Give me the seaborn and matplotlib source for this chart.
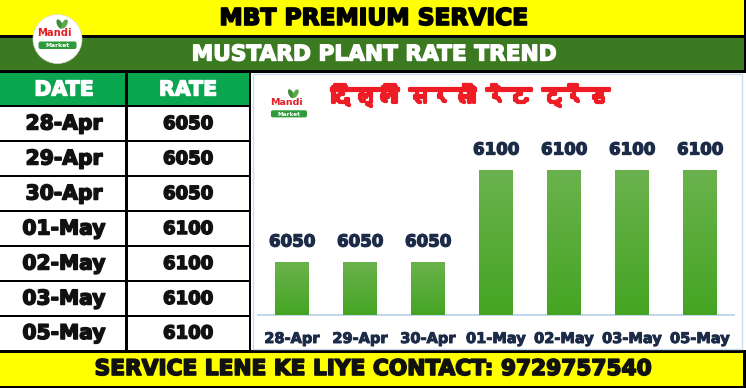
import matplotlib
matplotlib.use("Agg")
import matplotlib.pyplot as plt
import matplotlib.patheffects as pe
import seaborn as sns
import numpy as np
from matplotlib import font_manager
from matplotlib.ft2font import FT2Font
from matplotlib.patches import Rectangle, Circle, Ellipse, FancyBboxPatch
from matplotlib.colors import LinearSegmentedColormap

# ---------------- data ----------------
dates = ["28-Apr", "29-Apr", "30-Apr", "01-May", "02-May", "03-May", "05-May"]
rates = [6050, 6050, 6050, 6100, 6100, 6100, 6100]
header_title = "MBT PREMIUM SERVICE"
sub_title = "MUSTARD PLANT RATE TREND"
chart_title = "दिल्ली सरसों रेट ट्रेंड"
footer_text = "SERVICE LENE KE LIYE CONTACT: 9729757540"
col_headers = ["DATE", "RATE"]

sns.set_theme(style="white")
plt.rcParams['font.family'] = ['DejaVu Sans']


def find_font(ch):
    for f in font_manager.fontManager.ttflist:
        if 'CJK' in f.name:
            continue
        try:
            ft = FT2Font(f.fname)
            if ft.get_char_index(ord(ch)):
                return f.name
        except Exception:
            pass
    return None

deva = find_font("द")
title_family = [deva, 'DejaVu Sans'] if deva else ['DejaVu Sans']

W, H = 746, 388
fig = plt.figure(figsize=(W / 100, H / 100), dpi=100)
fig.patch.set_facecolor("white")

bg = fig.add_axes([0, 0, 1, 1])
bg.set_xlim(0, W)
bg.set_ylim(H, 0)
bg.axis("off")


def heavy(color, lw=0.9):
    return [pe.withStroke(linewidth=lw, foreground=color)]


def rect(x0, y0, x1, y1, fc, ec="none", lw=0, z=1):
    bg.add_patch(Rectangle((x0, y0), x1 - x0, y1 - y0, facecolor=fc,
                           edgecolor=ec, linewidth=lw, zorder=z))


YELLOW = "#FFFF00"
DKGREEN = "#3C7A22"
HDGREEN = "#0AA64F"
NAVY = "#1C2B47"

# top bands
rect(0, 0, W, 35, YELLOW)
rect(0, 35, W, 37.5, "black")
rect(0, 37.5, W, 70, DKGREEN)
rect(0, 70, W, 72.5, "black")
# bottom band
rect(0, 350, W, 353, "black")
rect(0, 353, W, 385.5, YELLOW)
rect(0, 385.5, W, H, "black")
# right border
rect(743.5, 0, W, 72.5, "black")
rect(742.5, 350, W, H, "black")

bg.text(374, 18.5, header_title, ha="center", va="center", fontsize=16.8,
        fontweight="bold", color="black", zorder=5,
        path_effects=heavy("black", 1.2))
bg.text(374, 54.5, sub_title, ha="center", va="center", fontsize=15.6,
        fontweight="bold", color="white", zorder=5,
        path_effects=heavy("white", 1.0))
bg.text(373, 369, footer_text, ha="center", va="center", fontsize=15.6,
        fontweight="bold", color="#111111", zorder=5,
        path_effects=heavy("#111111", 1.2))

# table
rect(0, 72.5, 125, 106, HDGREEN)
rect(127, 72.5, 249, 106, HDGREEN)
for txt, xc in zip(col_headers, [64, 188]):
    bg.text(xc, 89.5, txt, ha="center", va="center", fontsize=14.8,
            fontweight="bold", color="white", zorder=5,
            path_effects=heavy("white", 1.0))
row_edges = [106, 141, 176, 211, 246, 281, 316, 350]
rect(125, 72.5, 127.5, 350, "black", z=3)
rect(248.5, 72.5, 251, 350, "black", z=3)
for ye in row_edges[:-1]:
    rect(0, ye - 1, 250, ye + 1, "black", z=3)
for i, (d, r) in enumerate(zip(dates, rates)):
    yc = (row_edges[i] + row_edges[i + 1]) / 2 + 0.5
    bg.text(64, yc, d, ha="center", va="center", fontsize=14.6,
            fontweight="bold", color="#111111", zorder=5,
            path_effects=heavy("#111111", 1.1))
    bg.text(188, yc, str(r), ha="center", va="center", fontsize=13.0,
            fontweight="bold", color="#111111", zorder=5,
            path_effects=heavy("#111111", 1.1))

# chart panel
rect(252.5, 73.5, 741.5, 349, "white", ec="#C9DDF0", lw=1, z=1)
bg.text(470, 96, chart_title, ha="center", va="center", fontsize=16,
        fontweight="bold", color="#EE1C24", family=title_family, zorder=5,
        path_effects=heavy("#EE1C24", 2.3))


def logo(cx, cy, s, circle=False):
    if circle:
        bg.add_patch(Circle((cx + 1, cy + 2), 24.5 * s, facecolor="white",
                            edgecolor="#DDDDDD", linewidth=0.5, zorder=4))
    bg.add_patch(Ellipse((cx + 3 * s, cy - 13 * s), 5 * s, 10 * s, angle=-25,
                         facecolor="#3F8F3A", edgecolor="none", zorder=5))
    bg.add_patch(Ellipse((cx + 8 * s, cy - 13 * s), 5 * s, 10 * s, angle=30,
                         facecolor="#5DA94A", edgecolor="none", zorder=5))
    bg.text(cx - 2 * s, cy - 4 * s, "Mandi", ha="center", va="center",
            fontsize=7.2 * s, fontweight="bold", color="#E31E24", zorder=6)
    bg.add_patch(FancyBboxPatch((cx - 18 * s, cy + 4.5 * s), 38 * s, 7.5 * s,
                                boxstyle="round,pad=0,rounding_size=2",
                                facecolor="#2F9A3B", edgecolor="none",
                                zorder=5))
    bg.text(cx + 1 * s, cy + 8.5 * s, "Market", ha="center", va="center",
            fontsize=4.4 * s, fontweight="bold", color="white", zorder=6)


logo(56.5, 37, 1.0, circle=True)
logo(288, 106, 0.95)

# bar chart
y0_px, y1_px = 110, 315
ax = fig.add_axes([258 / W, (H - y1_px) / H, 476 / W, (y1_px - y0_px) / H])
ax.patch.set_alpha(0)
sns.barplot(x=dates, y=rates, color="#55AC33", width=0.5, ax=ax,
            saturation=1)
ymin = 6021
ymax = ymin + (y1_px - y0_px) / 1.84
ax.set_xlim(-0.5, len(dates) - 0.5)

cmap = LinearSegmentedColormap.from_list("g", ["#45A522", "#6BB24E"])
grad = np.linspace(0, 1, 256).reshape(-1, 1)
for p in ax.patches:
    x0 = p.get_x()
    w = p.get_width()
    top = p.get_height()
    im = ax.imshow(grad, extent=(x0, x0 + w, ymin, top), origin="lower",
                   aspect="auto", cmap=cmap, zorder=3)
    im.set_clip_path(p)
ax.set_xlim(-0.5, len(dates) - 0.5)
ax.set_ylim(ymin, ymax)

labels = ax.bar_label(ax.containers[0], labels=[str(v) for v in rates],
                      padding=8, fontsize=12, fontweight="bold", color=NAVY)
for t in labels:
    t.set_path_effects(heavy(NAVY, 0.9))
for s in ["top", "left", "right"]:
    ax.spines[s].set_visible(False)
ax.spines["bottom"].set_color("#BDD3EA")
ax.spines["bottom"].set_linewidth(1.3)
ax.set_yticks([])
ax.tick_params(axis="x", length=0, pad=11.5)
for lab in ax.get_xticklabels():
    lab.set_fontsize(10.5)
    lab.set_fontweight("bold")
    lab.set_color(NAVY)
    lab.set_path_effects(heavy(NAVY, 0.7))
ax.set_xlabel("")
ax.set_ylabel("")

fig.savefig("out.png", dpi=100, facecolor="white")
